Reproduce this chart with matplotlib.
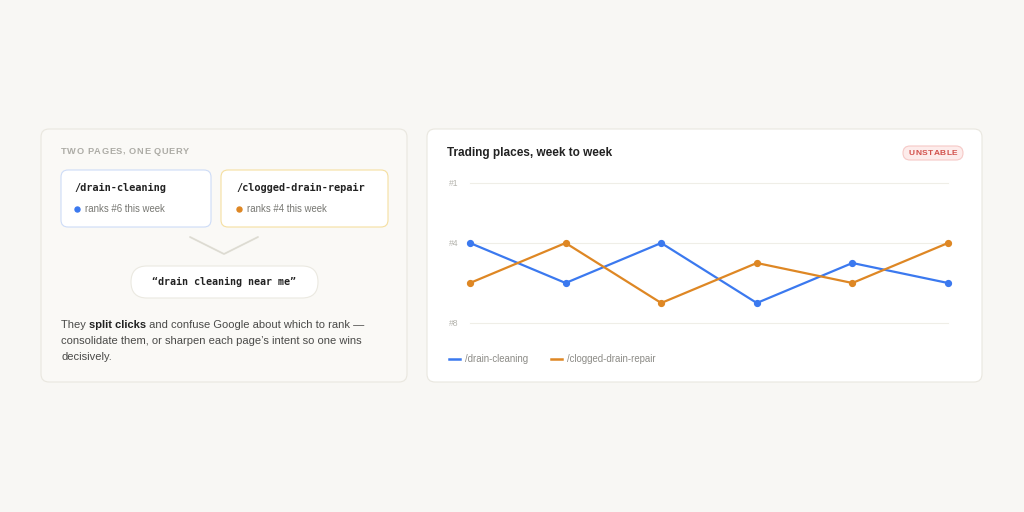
import matplotlib
matplotlib.use("Agg")
import matplotlib.pyplot as plt
from matplotlib.patches import FancyBboxPatch
from matplotlib.lines import Line2D

# data
weeks = [1, 2, 3, 4, 5, 6]
drain_cleaning = [4, 6, 4, 7, 5, 6]
clogged_drain_repair = [6, 4, 7, 5, 6, 4]
series_names = ["/drain-cleaning", "/clogged-drain-repair"]
rank_ticks = [1, 4, 8]
rank_labels = ["#1", "#4", "#8"]
this_week = ["ranks #6 this week", "ranks #4 this week"]

BG = "#f8f7f4"
BLUE = "#3b79ef"
ORANGE = "#de8724"
SANS = ["Liberation Sans", "DejaVu Sans"]
MONO = ["DejaVu Sans Mono"]

fig = plt.figure(figsize=(10.24, 5.12), dpi=100, facecolor=BG)
renderer = fig.canvas.get_renderer()

# full-figure axes in pixel coordinates for the cards
bg = fig.add_axes([0, 0, 1, 1])
bg.set_xlim(0, 1024)
bg.set_ylim(512, 0)
bg.axis("off")


def card(x, y, w, h, fc, ec, r=8, lw=0.8, z=1):
    bg.add_patch(FancyBboxPatch((x, y), w, h,
                                boxstyle=f"round,pad=0,rounding_size={r}",
                                fc=fc, ec=ec, lw=lw, zorder=z))


def text_width(t):
    return t.get_window_extent(renderer).width


def runs(x, y, parts, **kw):
    # draw consecutive text pieces (text, weight, color) on one line
    for s, w, c in parts:
        t = bg.text(x, y, s, fontweight=w, color=c, va="center", **kw)
        x += text_width(t)


def spaced(x, y, s, track, ha="left", **kw):
    # letter-spaced text
    pieces = [bg.text(0, y, ch, va="center", **kw) for ch in s]
    widths = [text_width(p) for p in pieces]
    total = sum(widths) + track * (len(s) - 1)
    if ha == "center":
        x -= total / 2
    for p, w in zip(pieces, widths):
        p.set_x(x)
        x += w + track


# left card
card(41, 129, 366, 253, "#faf9f6", "#e9e7df")
spaced(61, 151, "TWO PAGES, ONE QUERY", 0.55, fontsize=6.7,
       fontweight="bold", color="#adaca6", family=SANS)

card(61, 170, 150, 57, "#ffffff", "#cddcf7", r=7, z=2)
card(221, 170, 167, 57, "#ffffff", "#f5dfa0", r=7, z=2)
for bx, name, sub, col in [(74, series_names[0], this_week[0], BLUE),
                           (236, series_names[1], this_week[1], ORANGE)]:
    bg.text(bx, 188, name, fontsize=7.4, fontweight="bold", family=MONO,
            color="#222222", va="center", zorder=3)
    bg.plot(bx + 3, 208.5, "o", ms=3.6, color=col, zorder=3)
    bg.text(bx + 11, 208.5, sub, fontsize=6.9, family=SANS, color="#777772",
            va="center", zorder=3)

# chevron
bg.plot([190, 224, 258], [237, 254, 237], color="#dddbd2", lw=1.3,
        solid_capstyle="round", zorder=2)

card(131, 266, 187, 32, "#ffffff", "#ebe9e1", r=16, z=2)
bg.text(224.5, 282, "\u201cdrain cleaning near me\u201d", fontsize=7.2,
        fontweight="bold", family=MONO, color="#222222",
        ha="center", va="center", zorder=3)

para = dict(fontsize=8.0, family=SANS)
runs(61, 325, [("They ", "normal", "#4a4a48"),
               ("split clicks", "bold", "#222222"),
               (" and confuse Google about which to rank \u2014", "normal", "#4a4a48")], **para)
runs(61, 341, [("consolidate them, or sharpen each page\u2019s intent so one wins",
                "normal", "#4a4a48")], **para)
runs(61, 357, [("decisively.", "normal", "#4a4a48")], **para)

# right card
card(427, 129, 555, 253, "#ffffff", "#e9e7df")
bg.text(447, 153, "Trading places, week to week", fontsize=8.5,
        fontweight="bold", family=SANS, color="#222222", va="center")
card(903, 146, 60, 14, "#fdeceb", "#f6c9c6", r=7, z=2)
spaced(933, 153.5, "UNSTABLE", 0.5, ha="center", fontsize=6.0,
       fontweight="bold", family=SANS, color="#d2524d", zorder=3)

# line chart
ax = fig.add_axes([470 / 1024, (512 - 323) / 512, (948 - 470) / 1024, 140 / 512])
ax.set_facecolor("none")
ax.plot(weeks, drain_cleaning, "-o", color=BLUE, lw=1.6, ms=4.2, clip_on=False, zorder=3)
ax.plot(weeks, clogged_drain_repair, "-o", color=ORANGE, lw=1.6, ms=4.2, clip_on=False, zorder=3)
ax.set_xlim(weeks[0], weeks[-1])
ax.set_ylim(8, 1)
ax.set_xticks([])
ax.set_yticks(rank_ticks)
ax.set_yticklabels(rank_labels, family=SANS, fontsize=6.2, color="#b5b4ae")
ax.tick_params(axis="y", length=0, pad=8.4)
ax.grid(axis="y", color="#efeee7", lw=0.8)
for gl in ax.get_ygridlines():
    gl.set_clip_on(False)
for s in ax.spines.values():
    s.set_visible(False)

handles = [Line2D([], [], color=BLUE, lw=1.8), Line2D([], [], color=ORANGE, lw=1.8)]
leg = fig.legend(handles, series_names, loc="center left",
                 bbox_to_anchor=(440 / 1024, (512 - 359) / 512), ncol=2,
                 frameon=False, handlelength=1.2, handletextpad=0.55,
                 columnspacing=2.3, prop={"family": SANS, "size": 6.9})
for t in leg.get_texts():
    t.set_color("#8c8b86")

fig.savefig("out.png", dpi=100, facecolor=BG)
